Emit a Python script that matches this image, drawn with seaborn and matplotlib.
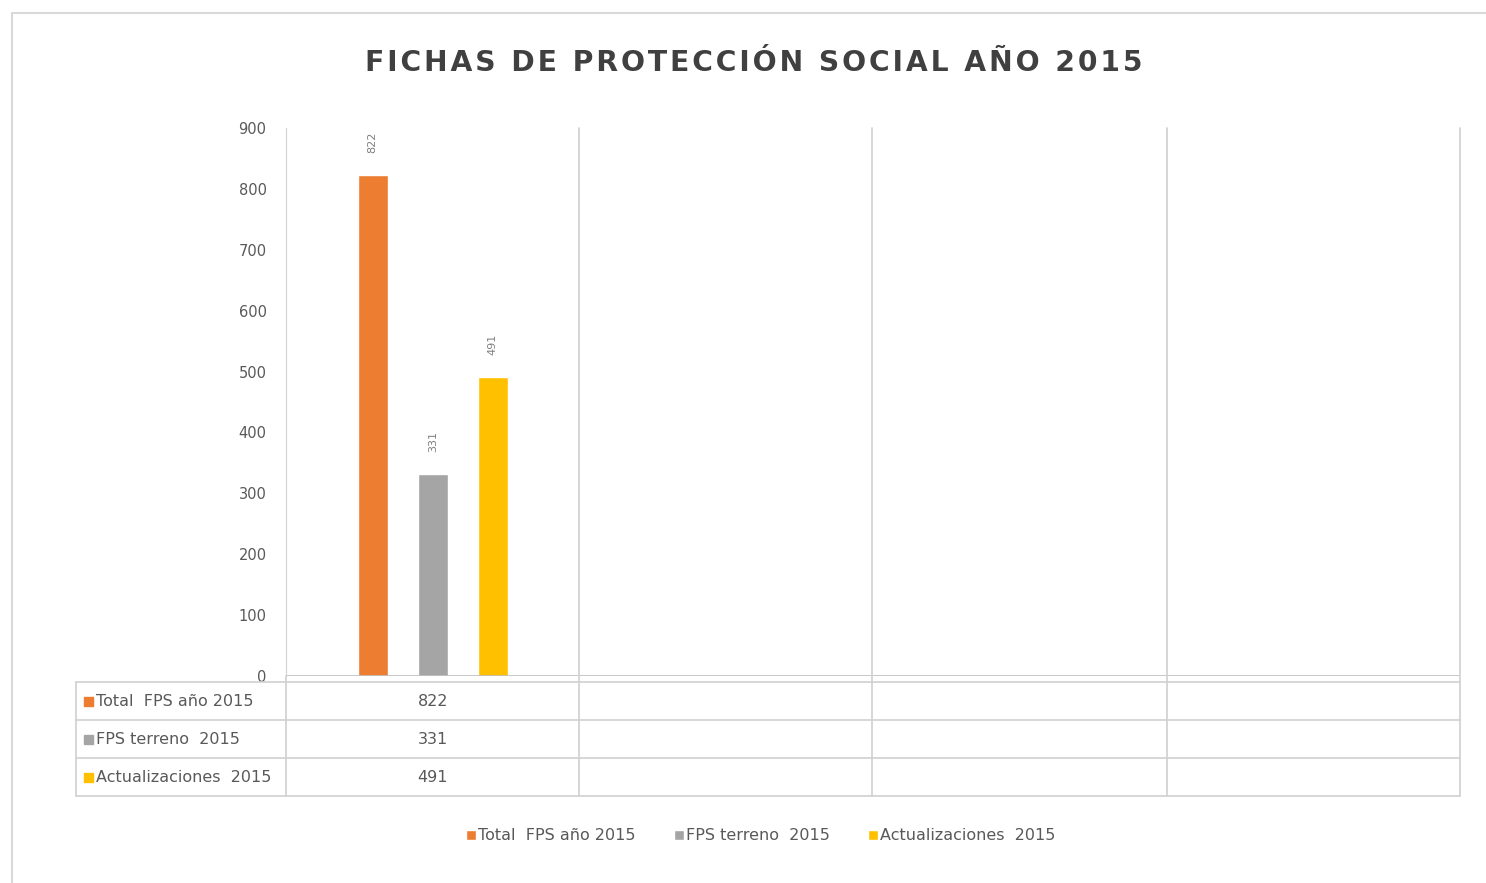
import matplotlib
matplotlib.use("Agg")
from matplotlib import pyplot as plt
from matplotlib.lines import Line2D
from matplotlib.patches import Rectangle
import seaborn as sns
import pandas as pd

series = ["Total  FPS año 2015", "FPS terreno  2015", "Actualizaciones  2015"]
categories = ["c1", "c2", "c3", "c4"]
values = [822, 331, 491]
colors = ["#ED7D31", "#A5A5A5", "#FFC000"]
y_ticks = [0, 100, 200, 300, 400, 500, 600, 700, 800, 900]
title = "FICHAS DE PROTECCIÓN SOCIAL AÑO 2015"

W, H = 1486, 883
fx = lambda px: px / W
fy = lambda py: 1 - py / H

df = pd.DataFrame({"cat": [categories[0]] * len(series), "serie": series, "valor": values})

sns.set_style("white")
plt.rcParams["font.family"] = ["DejaVu Sans"]
fig = plt.figure(figsize=(W / 100, H / 100), dpi=100)
ax = fig.add_axes([fx(286), fy(676), fx(1460) - fx(286), fy(128) - fy(676)])

sns.barplot(data=df, x="cat", y="valor", hue="serie", order=categories, hue_order=series,
            palette=colors, width=0.615, gap=0.5, saturation=1, ax=ax)

ax.set_xlim(-0.5, 3.5)
ax.set_ylim(0, 900)
ax.set_yticks(y_ticks)
ax.tick_params(axis="y", labelsize=10.5, labelcolor="#595959", length=5, color="#d0d0d0", pad=9)
ax.set_xticks([])
ax.set_xlabel("")
ax.set_ylabel("")
for s in ["top", "right", "bottom"]:
    ax.spines[s].set_visible(False)
ax.spines["left"].set_color("#d0d0d0")
ax.axhline(0, color="#bfbfbf", lw=1.2)

# etiquetas rotadas sobre las barras
for cont in ax.containers:
    for bar in cont:
        h = bar.get_height()
        if pd.isna(h) or h == 0:
            continue
        ax.annotate(f"{int(h)}", (bar.get_x() + bar.get_width() / 2, h), xytext=(0, 16),
                    textcoords="offset points", rotation=90, ha="center", va="bottom",
                    fontsize=8, color="#7f7f7f")

# leyenda inferior
handles, labels = ax.get_legend_handles_labels()
ax.legend_.remove()
fig.legend(handles, labels, loc="center", bbox_to_anchor=(fx(761), fy(836)), ncol=3, frameon=False,
           handlelength=0.6, handleheight=0.6, handletextpad=0.15, columnspacing=2.4,
           prop={"size": 11.5}, labelcolor="#595959")

# tabla de datos
grid_c = "#d0d0d0"
col_px = [286, 579, 872, 1167, 1460]
row_px = [682, 720, 758, 796]
for x in col_px[1:]:
    fig.add_artist(Line2D([fx(x), fx(x)], [fy(128), fy(796)], color=grid_c, lw=1.2))
fig.add_artist(Line2D([fx(286), fx(286)], [fy(676), fy(796)], color=grid_c, lw=1.2))
fig.add_artist(Line2D([fx(76), fx(76)], [fy(682), fy(796)], color=grid_c, lw=1.2))
for y in row_px:
    fig.add_artist(Line2D([fx(76), fx(1460)], [fy(y), fy(y)], color=grid_c, lw=1.2))

cx = ax.transData.transform((0, 0))[0] / W
for i, (name, val, c) in enumerate(zip(series, values, colors)):
    yc = (row_px[i] + row_px[i + 1]) / 2
    fig.add_artist(Rectangle((fx(84), fy(yc + 5)), fx(9), 9 / H, color=c))
    fig.text(fx(96), fy(yc), name, ha="left", va="center", fontsize=11.5, color="#595959")
    fig.text(cx, fy(yc), f"{val}", ha="center", va="center", fontsize=11.5, color="#595959")

# marco del gráfico
fig.add_artist(Rectangle((fx(12), -0.05), 1, fy(13) + 0.05, fill=False, edgecolor="#d9d9d9", lw=1.5))

fig.text(fx(754), fy(63), "\u200a".join(title), ha="center", va="center",
         fontsize=20.3, fontweight="bold", color="#404040")

fig.savefig("out.png", dpi=100)
